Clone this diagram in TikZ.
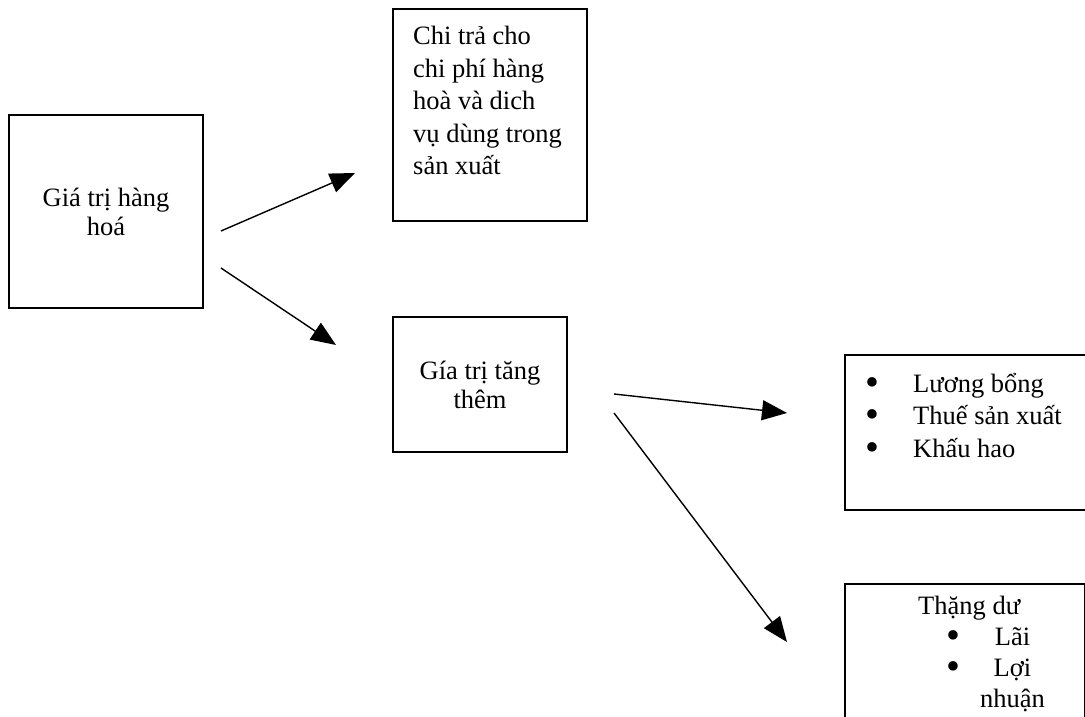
\documentclass[tikz,border=0pt]{standalone}
\usepackage{fontspec}
\setmainfont{Liberation Serif}
\usetikzlibrary{arrows.meta}

\newcommand{\bul}{\smash{\raisebox{-3pt}{\scalebox{1.5}{\textbullet}}}}

\tikzset{
    box/.style={draw=black, line width=1.7pt, rectangle, inner sep=0pt, outer sep=0pt, align=center},
    txt/.style={anchor=base west, inner sep=0pt},
    arr/.style={-{Triangle[length=25pt, width=20pt]}, line width=1.4pt},
}

\begin{document}
\begin{tikzpicture}[x=1pt, y=-1pt, every node/.style={font=\fontsize{26.5}{32.5}\selectfont}]
    \clip (0,0) rectangle (1085,717);

    \begin{scope}
        \node [box, anchor=north west, minimum width=194pt, minimum height=193pt, font=\fontsize{26.5}{29}\selectfont] (hanghoa) at (9,115) {Giá trị hàng\\hoá};
        \node [box, anchor=north west, minimum width=194pt, minimum height=212pt] (chitra) at (393,9) {};
        \node [txt] (chitra-txt) at (413,45) {\parbox[t]{170pt}{Chi trả cho\\chi phí hàng\\hoà và dich\\vụ dùng trong\\sản xuất}};
        \node [box, anchor=north west, minimum width=174pt, minimum height=135pt, font=\fontsize{26.5}{29}\selectfont] (tangthem) at (393,317) {Gía trị tăng\\thêm};
    \end{scope}

    \begin{scope}
        \node [box, anchor=north west, minimum width=244pt, minimum height=155pt] (chiphi) at (845,355) {};
        \node [txt] (chiphi-txt) at (865,392) {\parbox[t]{215pt}{\makebox[48pt][l]{\bul}Lương bổng\\\makebox[48pt][l]{\bul}Thuế sản xuất\\\makebox[48pt][l]{\bul}Khấu hao}};
        \node [box, anchor=north west, minimum width=240pt, minimum height=200pt] (thangdu) at (845,584) {};
        \node [txt] (thangdu-txt) at (918,614) {Thặng dư};
        \node [txt, font=\fontsize{26.5}{31}\selectfont] (loinhuan) at (946,645) {\begin{tabular}[t]{@{}l@{\hspace{20pt}}c@{}}\bul & Lãi\\ \bul & Lợi\\ & nhuận\end{tabular}};
    \end{scope}

    \coordinate (a1s) at (221,231);
    \coordinate (a1e) at (355,173);
    \coordinate (a2s) at (221,268);
    \coordinate (a2e) at (336,345);
    \coordinate (a3s) at (614,394);
    \coordinate (a3e) at (787,413);
    \coordinate (a4s) at (614,413);
    \coordinate (a4e) at (787,642);

    \draw [arr] (a1s) -- (a1e);
    \draw [arr] (a2s) -- (a2e);
    \draw [arr] (a3s) -- (a3e);
    \draw [arr] (a4s) -- (a4e);
\end{tikzpicture}
\end{document}
